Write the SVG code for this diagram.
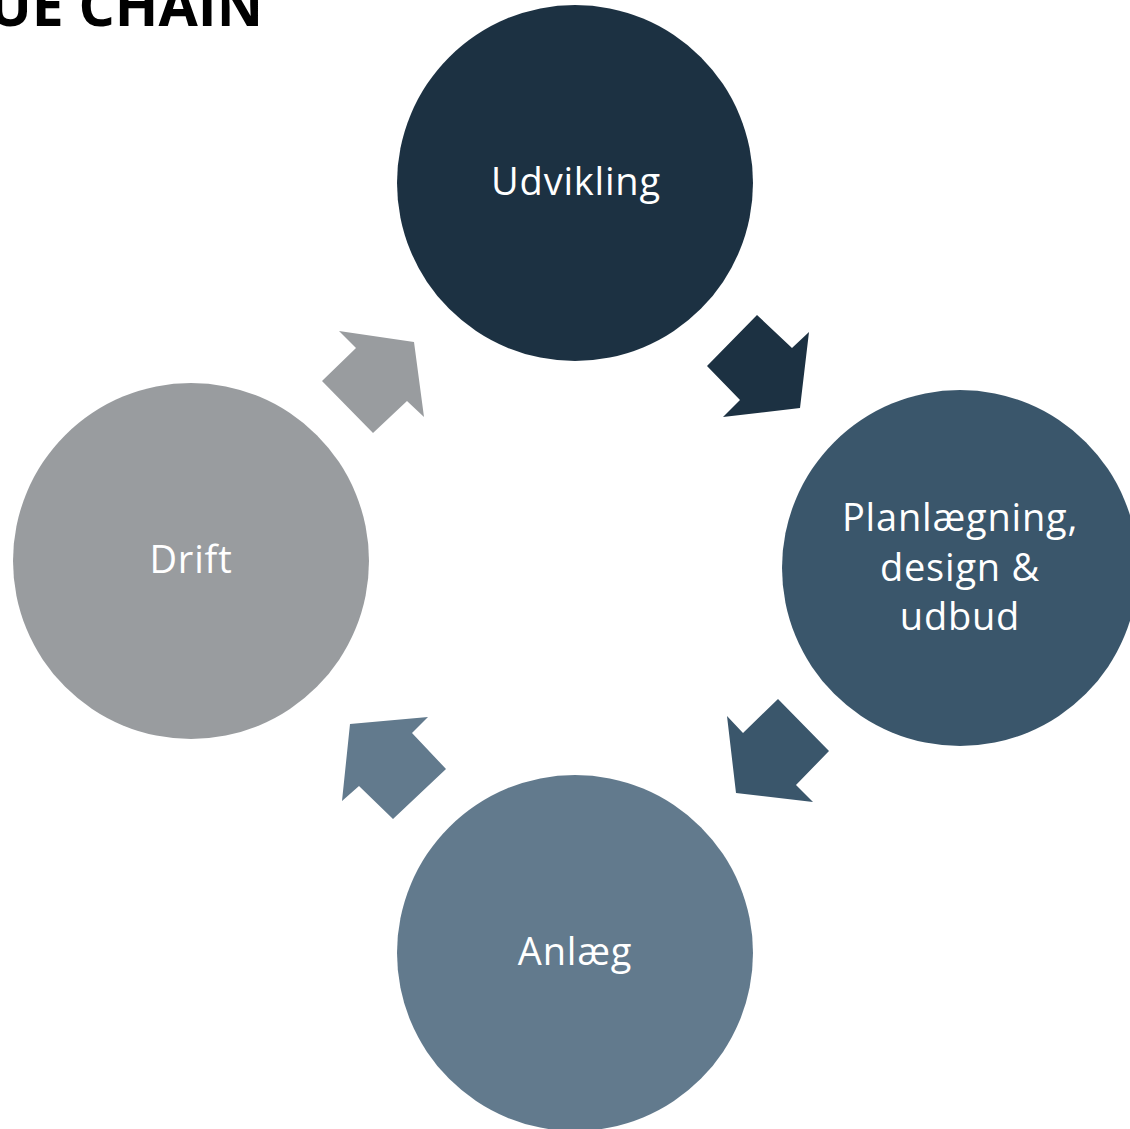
<svg xmlns="http://www.w3.org/2000/svg" width="1130" height="1129" viewBox="0 0 1130 1129">
<style>
.lbl{font-family:"Open Sans","DejaVu Sans",sans-serif;font-size:38px;letter-spacing:0.8px;fill:#ffffff;text-anchor:middle}
.title{font-family:"Open Sans","DejaVu Sans",sans-serif;font-size:57px;font-weight:bold;fill:#000000;text-anchor:end}
</style>
<rect width="1130" height="1129" fill="#ffffff"/>
<text class="title" x="263" y="26">VALUE CHAIN</text>
<g id="connectors">
<polygon points="757,315 792,348 809,332 800,408 723,417 740,400 707,366" fill="#1C3142"/>
<polygon points="778,699 829,751 796,785 813,802 736,793 727,716 743,733" fill="#3A566B"/>
<polygon points="350,724 428,717 412,733 446,769 393,819 359,786 342,801" fill="#627A8D"/>
<polygon points="339,331 414,342 424,417 407,401 373,433 322,381 356,348" fill="#999C9F"/>
</g>
<g id="udvikling">
<circle cx="575" cy="183" r="178" fill="#1C3142"/>
<text class="lbl" x="576" y="195">Udvikling</text>
</g>
<g id="planlaegning">
<circle cx="960" cy="568" r="178" fill="#3A566B"/>
<text class="lbl" x="960" y="531">Planlægning,</text>
<text class="lbl" x="960" y="581">design &amp;</text>
<text class="lbl" x="960" y="630">udbud</text>
</g>
<g id="anlaeg">
<circle cx="575" cy="953" r="178" fill="#627A8D"/>
<text class="lbl" x="575" y="965">Anlæg</text>
</g>
<g id="drift">
<circle cx="191" cy="561" r="178" fill="#999C9F"/>
<text class="lbl" x="191" y="573">Drift</text>
</g>
</svg>
